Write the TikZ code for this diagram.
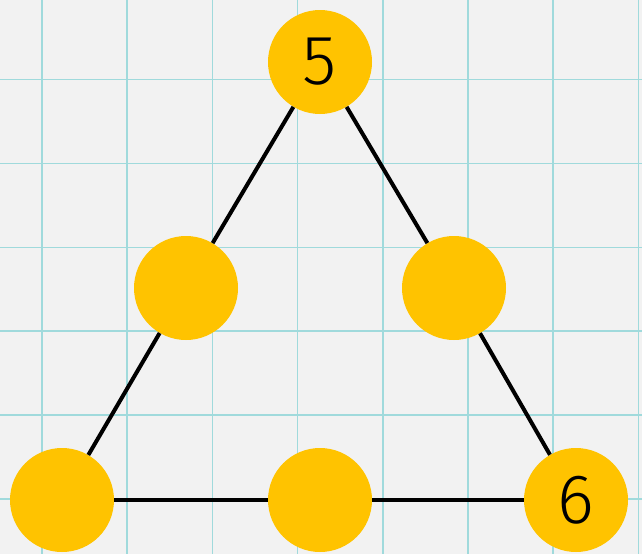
\documentclass[tikz,border=0pt]{standalone}
\usepackage{fontspec}
\setmainfont{Fira Sans Light}
\definecolor{paper}{RGB}{242,242,242}
\definecolor{gridc}{RGB}{160,218,220}
\definecolor{disc}{RGB}{255,195,0}
\begin{document}
\begin{tikzpicture}[x=1pt,y=-1pt,
  dot/.style={circle,fill=disc,minimum size=104pt,inner sep=0pt,font=\fontsize{70}{70}\selectfont},
  edge/.style={line width=4pt,black}]
\fill[paper] (0,0) rectangle (642,554);
\useasboundingbox (0,0) rectangle (642,554);
\foreach \i in {0,...,7} {\draw[gridc,line width=1.6pt] (42+85.2*\i,0) -- (42+85.2*\i,554);}
\foreach \j in {0,...,5} {\draw[gridc,line width=1.6pt] (0,79.5+83.9*\j) -- (642,79.5+83.9*\j);}
\node[dot] (t) at (320,62) {5};
\node[dot] (ml) at (186,288) {};
\node[dot] (mr) at (454,288) {};
\node[dot] (bl) at (62,500) {};
\node[dot] (bm) at (320,500) {};
\node[dot] (br) at (576,500) {6};
\draw[edge] (t) -- (ml);
\draw[edge] (ml) -- (bl);
\draw[edge] (t) -- (mr);
\draw[edge] (mr) -- (br);
\draw[edge] (bl) -- (bm);
\draw[edge] (bm) -- (br);
\end{tikzpicture}
\end{document}
